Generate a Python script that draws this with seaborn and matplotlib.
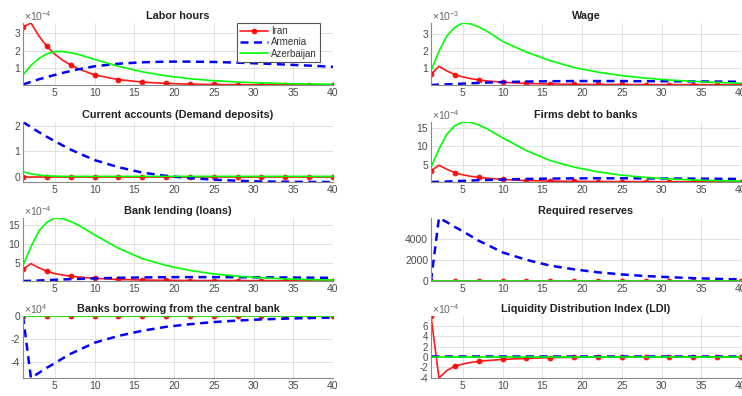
import numpy as np
import matplotlib
matplotlib.use("Agg")
import matplotlib.pyplot as plt
import seaborn as sns
from matplotlib.ticker import MultipleLocator, FuncFormatter

# Impulse responses over 40 periods (sampled periods; lines join them)
periods = [1, 2, 3, 4, 5, 6, 7, 8, 10, 13, 16, 19, 22, 25, 28, 31, 34, 37, 40]
countries = ["Iran", "Armenia", "Azerbaijan"]

# Labor hours (x1e-4)
iran_labor = [3.37, 3.60, 2.85, 2.25, 1.80, 1.45, 1.17, 0.95, 0.60, 0.33, 0.19, 0.11, 0.07, 0.05, 0.04, 0.03, 0.03, 0.02, 0.02]
armenia_labor = [0.05, 0.20, 0.35, 0.48, 0.60, 0.72, 0.83, 0.93, 1.10, 1.25, 1.33, 1.37, 1.37, 1.35, 1.31, 1.26, 1.20, 1.14, 1.07]
azer_labor = [0.60, 1.15, 1.55, 1.82, 1.95, 1.95, 1.88, 1.78, 1.50, 1.10, 0.78, 0.55, 0.38, 0.27, 0.19, 0.14, 0.10, 0.08, 0.06]

# Wage (x1e-3)
iran_wage = [0.65, 1.12, 0.85, 0.64, 0.50, 0.40, 0.33, 0.27, 0.19, 0.12, 0.09, 0.07, 0.06, 0.06, 0.05, 0.05, 0.05, 0.05, 0.05]
armenia_wage = [0.03, 0.05, 0.07, 0.09, 0.11, 0.13, 0.15, 0.17, 0.20, 0.23, 0.25, 0.26, 0.26, 0.26, 0.25, 0.25, 0.24, 0.23, 0.22]
azer_wage = [0.85, 2.00, 2.90, 3.40, 3.65, 3.60, 3.42, 3.18, 2.58, 1.95, 1.45, 1.05, 0.78, 0.58, 0.43, 0.32, 0.24, 0.18, 0.13]

# Current accounts (demand deposits)
iran_ca = [0.0, 0.0, 0.0, 0.0, 0.0, 0.0, 0.0, 0.0, 0.0, 0.0, 0.0, 0.0, 0.0, 0.0, 0.0, 0.0, 0.0, 0.0, 0.0]
armenia_ca = [2.15, 1.95, 1.75, 1.57, 1.40, 1.23, 1.07, 0.93, 0.66, 0.38, 0.17, 0.04, -0.05, -0.11, -0.15, -0.18, -0.19, -0.20, -0.20]
azer_ca = [0.20, 0.12, 0.07, 0.04, 0.03, 0.02, 0.02, 0.02, 0.02, 0.02, 0.02, 0.02, 0.02, 0.02, 0.02, 0.02, 0.02, 0.02, 0.02]

# Firms debt to banks (x1e-4)
iran_firms = [3.3, 4.8, 3.7, 2.8, 2.2, 1.8, 1.5, 1.3, 0.95, 0.65, 0.50, 0.42, 0.38, 0.36, 0.35, 0.34, 0.33, 0.33, 0.32]
armenia_firms = [0.25, 0.30, 0.38, 0.47, 0.56, 0.65, 0.73, 0.80, 0.93, 1.08, 1.18, 1.24, 1.26, 1.26, 1.24, 1.21, 1.17, 1.13, 1.08]
azer_firms = [4.3, 9.2, 13.3, 15.6, 16.6, 16.5, 15.8, 14.8, 12.3, 8.8, 6.1, 4.3, 3.0, 2.1, 1.5, 1.1, 0.8, 0.6, 0.5]

# Bank lending (loans) (x1e-4)
iran_loans = [3.3, 4.8, 3.7, 2.8, 2.2, 1.8, 1.5, 1.3, 0.95, 0.65, 0.50, 0.42, 0.38, 0.36, 0.35, 0.34, 0.33, 0.33, 0.32]
armenia_loans = [0.25, 0.30, 0.38, 0.47, 0.56, 0.65, 0.73, 0.80, 0.93, 1.08, 1.18, 1.24, 1.26, 1.26, 1.24, 1.21, 1.17, 1.13, 1.08]
azer_loans = [4.3, 9.2, 13.3, 15.6, 16.7, 16.5, 15.8, 14.8, 12.3, 8.8, 6.1, 4.3, 3.0, 2.1, 1.5, 1.1, 0.8, 0.6, 0.5]

# Required reserves
iran_res = [0, 0, 0, 0, 0, 0, 0, 0, 0, 0, 0, 0, 0, 0, 0, 0, 0, 0, 0]
armenia_res = [0, 5950, 5550, 5100, 4700, 4250, 3800, 3450, 2700, 2000, 1450, 1100, 820, 620, 470, 360, 270, 200, 150]
azer_res = [30, 30, 30, 30, 30, 30, 30, 30, 30, 30, 30, 30, 30, 30, 30, 30, 30, 30, 30]

# Banks borrowing from the central bank (x1e4)
iran_borrow = [0, 0, 0, 0, 0, 0, 0, 0, 0, 0, 0, 0, 0, 0, 0, 0, 0, 0, 0]
armenia_borrow = [0, -5.45, -5.0, -4.55, -4.15, -3.72, -3.32, -3.0, -2.35, -1.75, -1.3, -0.95, -0.72, -0.53, -0.40, -0.30, -0.23, -0.18, -0.14]
azer_borrow = [0, 0, 0, 0, 0, 0, 0, 0, 0, 0, 0, 0, 0, 0, 0, 0, 0, 0, 0]

# Liquidity Distribution Index (x1e-4)
iran_ldi = [7.9, -4.05, -2.6, -1.75, -1.35, -1.05, -0.85, -0.70, -0.47, -0.27, -0.12, -0.05, -0.02, 0.0, 0.02, 0.03, 0.03, 0.03, 0.03]
armenia_ldi = [0.15, 0.15, 0.15, 0.15, 0.15, 0.15, 0.15, 0.15, 0.15, 0.15, 0.15, 0.15, 0.15, 0.15, 0.15, 0.15, 0.15, 0.15, 0.15]
azer_ldi = [0, 0, 0, 0, 0, 0, 0, 0, 0, 0, 0, 0, 0, 0, 0, 0, 0, 0, 0]

xticks = [5, 10, 15, 20, 25, 30, 35, 40]

# (title, power of ten, series, y tick step in scaled units, column, row)
panels = [
    ("Labor hours", -4, (iran_labor, armenia_labor, azer_labor), 1, 0, 0),
    ("Current accounts (Demand deposits)", 0, (iran_ca, armenia_ca, azer_ca), 1, 0, 1),
    ("Bank lending (loans)", -4, (iran_loans, armenia_loans, azer_loans), 5, 0, 2),
    ("Banks borrowing from the central bank", 4, (iran_borrow, armenia_borrow, azer_borrow), 2, 0, 3),
    ("Wage", -3, (iran_wage, armenia_wage, azer_wage), 1, 1, 0),
    ("Firms debt to banks", -4, (iran_firms, armenia_firms, azer_firms), 5, 1, 1),
    ("Required reserves", 0, (iran_res, armenia_res, azer_res), 2000, 1, 2),
    ("Liquidity Distribution Index (LDI)", -4, (iran_ldi, armenia_ldi, azer_ldi), 2, 1, 3),
]

sns.set_theme(style="white")
plt.rcParams["font.family"] = ["Liberation Sans", "DejaVu Sans"]
plt.rcParams["axes.unicode_minus"] = False
plt.rcParams["mathtext.fontset"] = "custom"
plt.rcParams["mathtext.rm"] = "Liberation Sans"
plt.rcParams["mathtext.it"] = "Liberation Sans"

W, H = 742, 396
fig = plt.figure(figsize=(W / 100, H / 100), dpi=100)
fig.patch.set_facecolor("white")

col_x = [(23, 333), (431, 741)]
row_y = [(23, 85), (122, 182), (218, 281), (316, 378)]

RED, BLUE, GREEN = "#ff0000", "#0000ff", "#00ff00"
TICK_COLOR = "#4a4a4a"
marker_idx = [i for i, p in enumerate(periods) if (p - 1) % 3 == 0]
x = np.array(periods, dtype=float)


def make_formatter(scale):
    return FuncFormatter(lambda v, _: f"{round(v / scale, 6):g}")


for title, power, (s_iran, s_arm, s_az), step, col, row in panels:
    scale = 10.0 ** power
    x0, x1 = col_x[col]
    y0, y1 = row_y[row]
    ax = fig.add_axes([x0 / W, 1 - y1 / H, (x1 - x0) / W, (y1 - y0) / H])
    first = (col == 0 and row == 0)

    y_iran = np.array(s_iran, dtype=float) * scale
    y_arm = np.array(s_arm, dtype=float) * scale
    y_az = np.array(s_az, dtype=float) * scale

    sns.lineplot(x=x, y=y_iran, ax=ax, color=RED, linewidth=1.2, marker="o",
                 markersize=4.2, markeredgecolor=RED, markerfacecolor=RED,
                 markeredgewidth=0, markevery=marker_idx, legend=False,
                 label="Iran" if first else None, alpha=0.9)
    sns.lineplot(x=x, y=y_arm, ax=ax, color=BLUE, linewidth=1.8,
                 linestyle=(0, (3.2, 2.2)), legend=False,
                 label="Armenia" if first else None)
    sns.lineplot(x=x, y=y_az, ax=ax, color=GREEN, linewidth=1.2, legend=False,
                 label="Azerbaijan" if first else None)

    lo = min(y_iran.min(), y_arm.min(), y_az.min())
    hi = max(y_iran.max(), y_arm.max(), y_az.max())
    ax.set_xlim(1, 40)
    ax.set_ylim(lo, hi)
    ax.set_xticks(xticks)
    ax.yaxis.set_major_locator(MultipleLocator(step * scale))
    ax.yaxis.set_major_formatter(make_formatter(scale))

    if power != 0:
        ax.text(0.003, 1.0, r"$\times10^{%d}$" % power, transform=ax.transAxes,
                ha="left", va="bottom", fontsize=7.5, color="#666666")

    ax.set_xlabel("")
    ax.set_ylabel("")
    ax.grid(True, color="#e2e2e2", linewidth=0.7)
    ax.set_axisbelow(True)
    for side in ("top", "right"):
        ax.spines[side].set_visible(False)
    for side in ("left", "bottom"):
        ax.spines[side].set_color("#8a8a8a")
        ax.spines[side].set_linewidth(0.8)
    ax.tick_params(axis="both", length=0, labelsize=7.5, labelcolor=TICK_COLOR, pad=2)
    if power == -4 and step == 2:
        ax.tick_params(axis="y", labelsize=7)
    ax.set_title(title, fontsize=7.8, fontweight="bold", color="#222222", pad=3)

    if first:
        leg = ax.legend(loc="upper right", bbox_to_anchor=(0.958, 1.0), fontsize=7,
                        frameon=True, fancybox=False, edgecolor="#555555",
                        framealpha=1, borderpad=0.3, labelspacing=0.15,
                        handlelength=2.9, handletextpad=0.3, borderaxespad=0)
        leg.get_frame().set_linewidth(0.8)
        for t in leg.get_texts():
            t.set_color("#333333")

fig.savefig("out.png", dpi=100, facecolor="white")
